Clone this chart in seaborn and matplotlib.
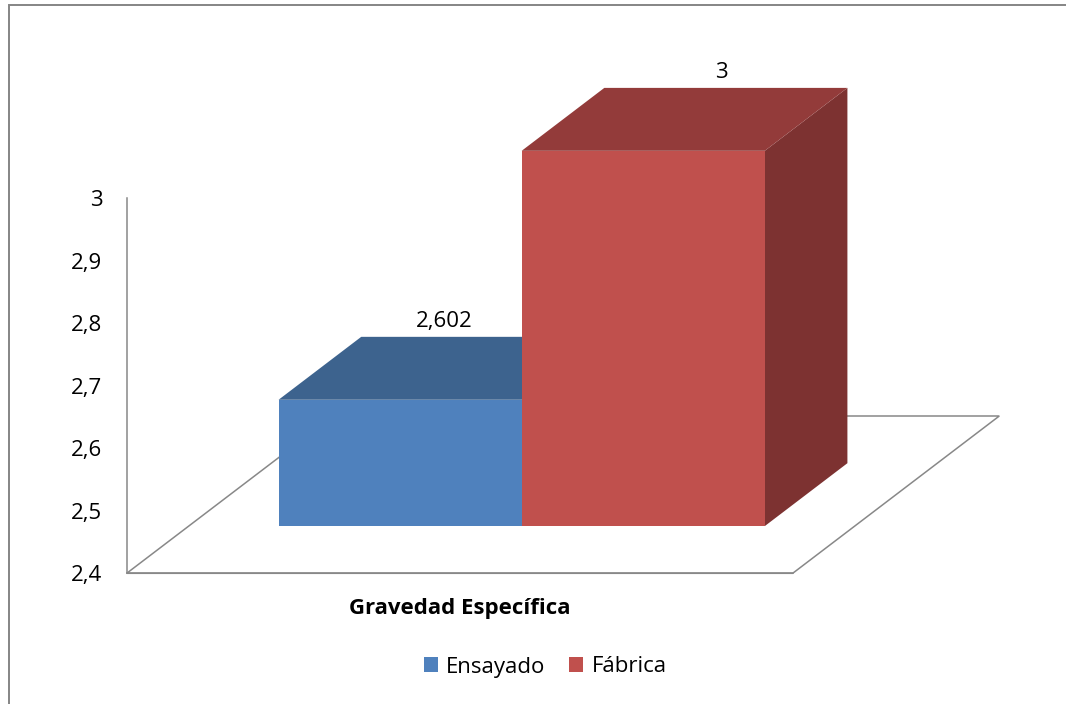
import matplotlib
matplotlib.use("Agg")
import matplotlib.pyplot as plt
from matplotlib.patches import Polygon, Rectangle, Patch
from matplotlib.ticker import FuncFormatter
import pandas as pd
import seaborn as sns

# ---- data ----
category = ["Gravedad Específica"]
series = ["Ensayado", "Fábrica"]
values = [2.602, 3.0]
y_ticks = [2.4, 2.5, 2.6, 2.7, 2.8, 2.9, 3.0]

# ---- colours (front, top, side faces) ----
front_colors = ["#4F81BD", "#C0504D"]
top_colors = ["#3D638E", "#933B3A"]
side_colors = ["#345479", "#7D3231"]
line_color = "#888888"
FS = 16

sns.set_theme(style="white")
plt.rcParams["font.family"] = ["Open Sans", "DejaVu Sans"]

W, H = 1066, 704
fig = plt.figure(figsize=(W / 100, H / 100), dpi=100)

# plot box of the front plane (pixels) and the oblique depth direction
box_left, box_right, box_bottom, box_top = 126.7, 792.7, 573.3, 198.0
depth_px = (206.6, 157.3)          # full floor depth, projected
bar_front, bar_depth = 0.30, 0.40  # fraction of floor depth

pos = [box_left / W, 1 - box_bottom / H,
       (box_right - box_left) / W, (box_bottom - box_top) / H]
ymin, ymax = y_ticks[0], y_ticks[-1]

ax = fig.add_axes(pos)
ax.set_xlim(-0.5, 0.5)
ax.set_ylim(ymin, ymax)
px_x = 1.0 / (box_right - box_left)
px_y = (ymax - ymin) / (box_bottom - box_top)
dx_full, dy_full = depth_px[0] * px_x, depth_px[1] * px_y

# floor
floor = Polygon([(-0.5, ymin), (0.5, ymin),
                 (0.5 + dx_full, ymin + dy_full), (-0.5 + dx_full, ymin + dy_full)],
                closed=True, facecolor="none", edgecolor=line_color, lw=1.1,
                clip_on=False, zorder=1)
ax.add_patch(floor)

for side in ["top", "right"]:
    ax.spines[side].set_visible(False)
for side in ["left", "bottom"]:
    ax.spines[side].set_color(line_color)
    ax.spines[side].set_linewidth(1.1)
ax.set_yticks(y_ticks)
ax.yaxis.set_major_formatter(FuncFormatter(lambda v, p: f"{v:g}".replace(".", ",")))
ax.set_xticks([0])
ax.set_xticklabels(category, fontweight="bold")
ax.tick_params(axis="y", length=0, pad=17.5, labelsize=FS, labelcolor="black")
ax.tick_params(axis="x", length=0, pad=18, labelsize=FS, labelcolor="black")
ax.set_xlabel("")
ax.set_ylabel("")
ax.patch.set_visible(False)

# bars: front faces sit on a plane shifted into the depth
pos2 = [pos[0] + bar_front * depth_px[0] / W, pos[1] + bar_front * depth_px[1] / H,
        pos[2], pos[3]]
ax2 = fig.add_axes(pos2)
df = pd.DataFrame({"Propiedad": category * len(series), "Serie": series, "Valor": values})
sns.barplot(data=df, x="Propiedad", y="Valor", hue="Serie", palette=front_colors,
            width=0.73, saturation=1, legend=False, linewidth=0, ax=ax2)
ax2.set_xlim(-0.5, 0.5)
ax2.set_ylim(ymin, ymax)
ax2.axis("off")
ax2.patch.set_visible(False)

ddx, ddy = bar_depth * dx_full, bar_depth * dy_full
label_shift_px = [3, 37]
bars = list(ax2.patches)
for i, (bar, v) in enumerate(zip(bars, values)):
    x0 = bar.get_x()
    x1 = x0 + bar.get_width()
    top = Polygon([(x0, v), (x1, v), (x1 + ddx, v + ddy), (x0 + ddx, v + ddy)],
                  closed=True, facecolor=top_colors[i], edgecolor="none",
                  clip_on=False, zorder=0.5)
    side = Polygon([(x1, ymin), (x1 + ddx, ymin + ddy), (x1 + ddx, v + ddy), (x1, v)],
                   closed=True, facecolor=side_colors[i], edgecolor="none",
                   clip_on=False, zorder=0.5)
    ax2.add_patch(side)
    ax2.add_patch(top)
    ax2.annotate(f"{v:g}".replace(".", ","),
                 xy=((x0 + x1) / 2 + ddx / 2, v + ddy),
                 xytext=(label_shift_px[i], 15), textcoords="offset pixels",
                 ha="center", va="center", fontsize=FS, color="black",
                 annotation_clip=False)

# legend
handles = [Patch(facecolor=c, edgecolor="none", label=s) for c, s in zip(front_colors, series)]
fig.legend(handles=handles, loc="center", bbox_to_anchor=(545.4 / W, 1 - 667 / H),
           ncol=2, frameon=False, fontsize=FS, labelcolor="black",
           handlelength=0.63, handleheight=0.63,
           handletextpad=0.36, columnspacing=1.07, borderaxespad=0, borderpad=0)

# chart border
fig.patches.append(Rectangle((8.5 / W, -0.1), 1.2, 1.1 - 5.5 / H, transform=fig.transFigure,
                             fill=False, edgecolor="#858585", lw=1.4))

fig.savefig("out.png", dpi=100, facecolor="white")
